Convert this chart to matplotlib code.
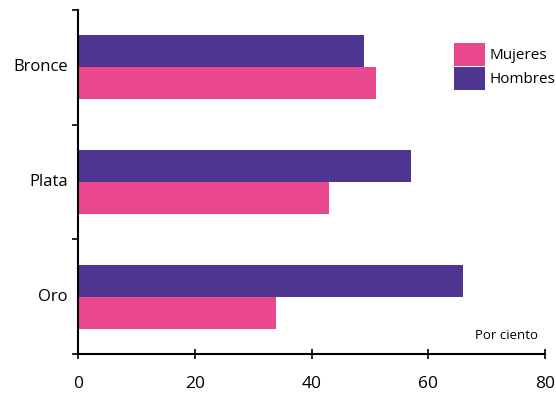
import matplotlib
matplotlib.use("Agg")
import matplotlib.pyplot as plt
import numpy as np
from matplotlib.patches import Patch

plt.rcParams['font.family'] = ['Open Sans', 'DejaVu Sans']

categories = ["Oro", "Plata", "Bronce"]
mujeres = [34, 43, 51]
hombres = [66, 57, 49]
xticks = [0, 20, 40, 60, 80]

c_muj = '#E9488E'
c_hom = '#4E3592'

fig = plt.figure(figsize=(5.56, 3.96), dpi=100)
ax = fig.add_axes([78/556, 1-354/396, (545-78)/556, (354-10)/396])

y = np.arange(len(categories))
h = 0.28
ax.barh(y + h/2, hombres, height=h, color=c_hom, label="Hombres")
ax.barh(y - h/2, mujeres, height=h, color=c_muj, label="Mujeres")

ax.set_xlim(0, 80)
ax.set_ylim(-0.5, 2.5)
ax.spines['top'].set_visible(False)
ax.spines['right'].set_visible(False)
ax.spines['left'].set_linewidth(1.5)
ax.spines['bottom'].set_linewidth(1.5)

ax.set_xticks(xticks)
ax.set_xticklabels([str(v) for v in xticks], fontsize=12.5)
ax.tick_params(axis='x', direction='inout', length=7, width=1.2, pad=12)

ax.set_yticks([-0.5, 0.5, 1.5, 2.5])
ax.set_yticklabels([])
ax.tick_params(axis='y', direction='out', length=4, width=1.2)
for yi, lab in zip(y, categories):
    ax.text(-0.022, yi, lab, transform=ax.get_yaxis_transform(), ha='right', va='center', fontsize=12)

ax.text(0.985, 0.035, "Por ciento", transform=ax.transAxes, ha='right', va='bottom', fontsize=9.5)

handles = [Patch(facecolor=c_muj, label="Mujeres"), Patch(facecolor=c_hom, label="Hombres")]
fig.legend(handles=handles, loc='upper left', bbox_to_anchor=(454/556, 1-43/396), frameon=False,
           fontsize=11, handlelength=2.0, handleheight=1.9, labelspacing=0.1, handletextpad=0.3,
           borderaxespad=0, borderpad=0)

fig.savefig("out.png", dpi=100, facecolor='white')
